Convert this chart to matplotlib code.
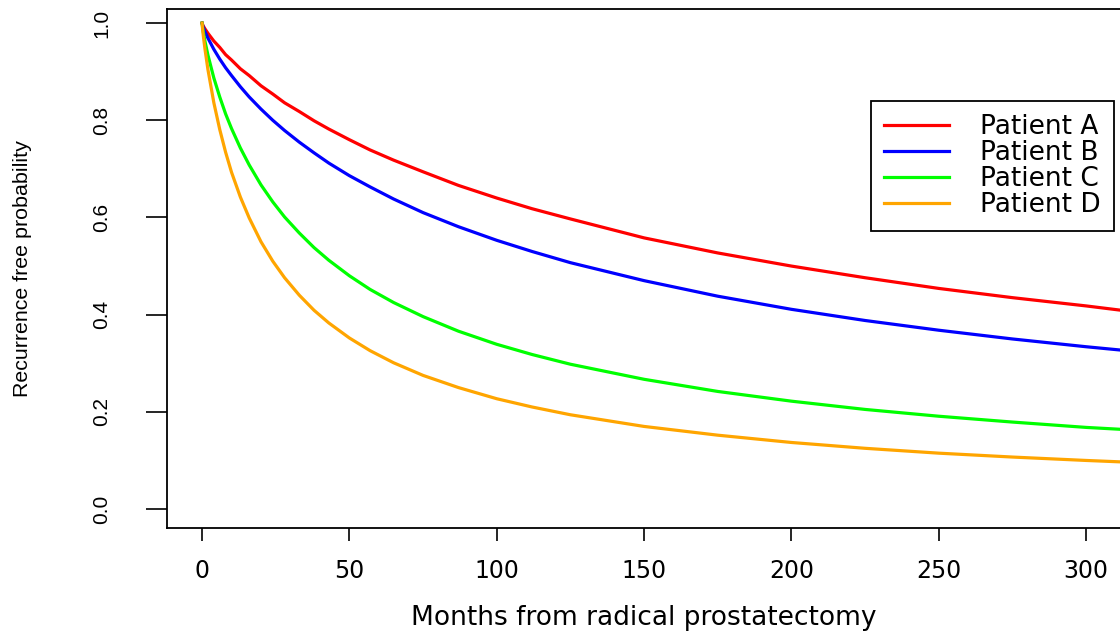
import matplotlib
matplotlib.use('Agg')
from matplotlib import pyplot as plt

# months after surgery and recurrence free probability
months = [0, 0.25, 0.5, 1, 2, 4, 6, 8, 10, 13, 16, 20, 24, 28, 33, 38, 43, 50,
          57, 65, 75, 87, 100, 112, 125, 150, 175, 200, 225, 250, 275, 300, 312]
patient_a = [1.0, .996, .993, .988, .979, .963, .950, .935, .924, .906, .892,
             .871, .854, .836, .818, .799, .782, .760, .739, .718, .694, .666,
             .640, .618, .597, .558, .527, .500, .476, .454, .435, .418, .409]
patient_b = [1.0, .994, .990, .982, .969, .946, .926, .908, .892, .869, .848,
             .823, .800, .779, .755, .733, .712, .686, .663, .638, .610, .581,
             .553, .530, .507, .470, .438, .411, .388, .368, .350, .334, .327]
patient_c = [1.0, .988, .979, .962, .934, .887, .848, .813, .783, .743, .708,
             .667, .632, .601, .568, .538, .512, .480, .452, .425, .396, .366,
             .339, .318, .298, .267, .242, .222, .205, .191, .179, .168, .164]
patient_d = [1.0, .983, .970, .946, .904, .836, .781, .734, .693, .642, .599,
             .550, .510, .476, .440, .409, .383, .352, .326, .301, .275, .250,
             .227, .210, .194, .170, .152, .137, .125, .115, .107, .100, .097]

labels = ['Patient A', 'Patient B', 'Patient C', 'Patient D']
colors = ['#FF0000', '#0000FF', '#00FF00', '#FFA500']
xticks = [0, 50, 100, 150, 200, 250, 300]
yticks = [0.0, 0.2, 0.4, 0.6, 0.8, 1.0]

fig = plt.figure(figsize=(11.2, 6.35), dpi=100)
ax = fig.add_axes([167 / 1120, 1 - 528 / 635, 953 / 1120, 519 / 635])

for ys, c, lab in zip([patient_a, patient_b, patient_c, patient_d], colors, labels):
  ax.plot(months, ys, color=c, lw=2.3, label=lab)

ax.set_xlim(-11.9, 311.5)
ax.set_ylim(-0.039, 1.029)

for s in ['left', 'bottom', 'top']:
  ax.spines[s].set_linewidth(1.3)
ax.spines['right'].set_visible(False)

ax.set_xticks(xticks)
ax.set_xticklabels([str(v) for v in xticks], family='DejaVu Sans', fontsize=17)
ax.set_yticks(yticks)
ax.set_yticklabels(['%.1f' % v for v in yticks], family='Liberation Sans',
                   fontsize=15, rotation=90, va='center')
ax.tick_params(axis='x', length=9.4, width=1.2, pad=13)
ax.tick_params(axis='y', length=15, width=1.2, pad=25)

ax.set_xlabel('Months from radical prostatectomy', family='DejaVu Sans',
              fontsize=19, va='center')
ax.xaxis.set_label_coords(0.5005, -0.173)
ax.set_ylabel('Recurrence free probability', family='Liberation Sans',
              fontsize=15.4, va='center')
ax.yaxis.set_label_coords(-0.152, 0.5)

leg = ax.legend(loc='upper right', bbox_to_anchor=(0.9937, 0.8227),
                borderaxespad=0, fancybox=False, edgecolor='black',
                framealpha=1, handlelength=2.45, handletextpad=1.2,
                labelspacing=0.0, borderpad=0.5,
                prop={'family': 'DejaVu Sans', 'size': 19})
leg.get_frame().set_linewidth(1.3)
for h in leg.get_lines():
  h.set_linewidth(2.3)

plt.savefig('out.png', dpi=100)
